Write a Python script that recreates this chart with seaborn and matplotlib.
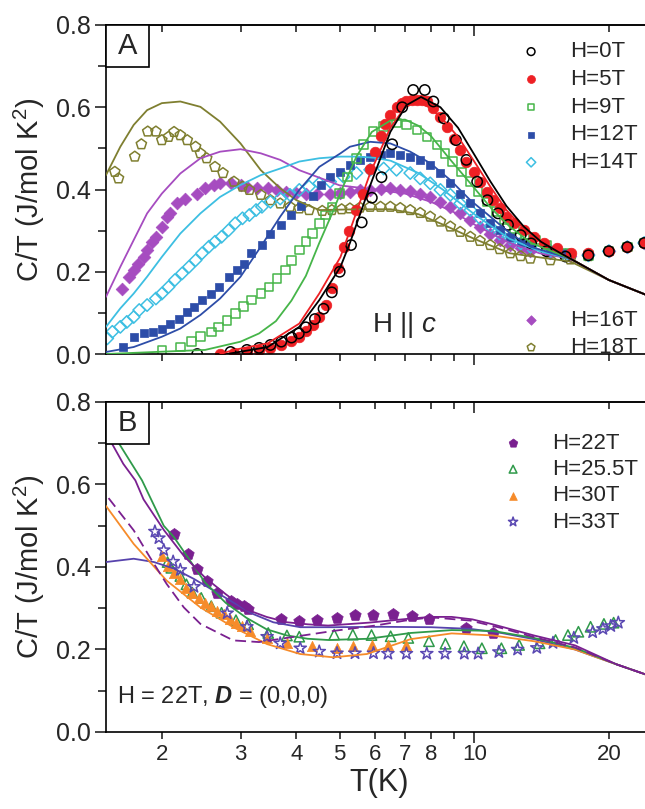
import matplotlib
matplotlib.use("Agg")
import matplotlib.pyplot as plt
from matplotlib.patches import Rectangle
import seaborn as sns

# ---------------- panel A : H || c, data points ----------------
T_0T = [2.4, 2.85, 3.1, 3.3, 3.5, 3.7, 3.9, 4.05, 4.2, 4.4, 4.6, 4.8, 5.0, 5.3, 5.6, 5.9, 6.2, 6.55,
        6.9, 7.3, 7.75, 8.1, 8.55, 9.1, 9.6, 10.15, 10.7, 11.3, 11.9, 12.7, 13.4, 14.5, 16.0, 18.0,
        20.0, 22.0, 24.0]
C_0T = [0.0, 0.005, 0.01, 0.015, 0.022, 0.03, 0.04, 0.05, 0.065, 0.085, 0.11, 0.15, 0.2, 0.265,
        0.32, 0.38, 0.43, 0.51, 0.6, 0.642, 0.642, 0.614, 0.573, 0.52, 0.472, 0.419, 0.374, 0.342,
        0.314, 0.289, 0.269, 0.25, 0.237, 0.24, 0.25, 0.26, 0.27]

T_5T = [2.7, 2.9, 3.1, 3.3, 3.5, 3.7, 3.9, 4.05, 4.2, 4.35, 4.5, 4.65, 4.8, 4.95, 5.1, 5.25, 5.45,
        5.65, 5.85, 6.0, 6.17, 6.33, 6.49, 6.7, 6.9, 7.05, 7.25, 7.45, 7.65, 7.83, 8.1, 8.4, 8.7,
        9.0, 9.3, 9.6, 10.0, 10.3, 10.7, 11.0, 11.4, 11.8, 12.3, 12.9, 13.6, 14.3, 15.3, 16.5,
        18.0, 20.0, 22.0, 24.0]
C_5T = [0.0, 0.003, 0.006, 0.01, 0.015, 0.022, 0.032, 0.042, 0.055, 0.07, 0.09, 0.12, 0.16, 0.21,
        0.26, 0.3, 0.35, 0.39, 0.45, 0.49, 0.53, 0.56, 0.58, 0.6, 0.61, 0.614, 0.617, 0.618, 0.617,
        0.614, 0.597, 0.577, 0.553, 0.524, 0.496, 0.468, 0.443, 0.419, 0.395, 0.374, 0.354, 0.334,
        0.318, 0.301, 0.285, 0.269, 0.257, 0.245, 0.245, 0.25, 0.26, 0.27]

T_9T = [2.0, 2.2, 2.33, 2.44, 2.58, 2.68, 2.8, 2.92, 3.05, 3.17, 3.33, 3.47, 3.62, 3.78, 3.9, 4.06,
        4.2, 4.35, 4.5, 4.65, 4.8, 5.0, 5.2, 5.45, 5.65, 5.93, 6.27, 6.7, 7.05, 7.45, 7.83, 8.25,
        8.6, 8.95, 9.35, 9.8, 10.2, 10.7, 11.2, 11.7, 12.3, 13.0, 13.7, 14.5, 16.0, 18.0, 20.0,
        22.0, 24.0]
C_9T = [0.008, 0.017, 0.03, 0.042, 0.054, 0.066, 0.082, 0.099, 0.115, 0.131, 0.147, 0.163, 0.184,
        0.204, 0.228, 0.253, 0.273, 0.293, 0.318, 0.338, 0.358, 0.39, 0.43, 0.475, 0.51, 0.541,
        0.553, 0.562, 0.557, 0.545, 0.528, 0.508, 0.488, 0.468, 0.443, 0.419, 0.395, 0.37, 0.346,
        0.326, 0.305, 0.289, 0.277, 0.265, 0.245, 0.24, 0.25, 0.26, 0.27]

T_12T = [1.64, 1.73, 1.82, 1.91, 2.0, 2.09, 2.18, 2.28, 2.36, 2.46, 2.58, 2.68, 2.82, 2.95, 3.05,
         3.17, 3.35, 3.5, 3.7, 3.9, 4.1, 4.35, 4.55, 4.76, 5.0, 5.27, 5.55, 5.85, 6.17, 6.49, 6.83,
         7.19, 7.57, 7.97, 8.4, 8.84, 9.3, 9.8, 10.3, 10.86, 11.4, 12.04, 12.7, 13.35, 14.8, 16.0,
         18.0, 20.0, 22.0, 24.0]
C_12T = [0.017, 0.042, 0.05, 0.054, 0.062, 0.074, 0.086, 0.103, 0.115, 0.131, 0.147, 0.163, 0.188,
         0.204, 0.22, 0.245, 0.265, 0.293, 0.314, 0.338, 0.36, 0.385, 0.41, 0.43, 0.443, 0.46,
         0.472, 0.48, 0.484, 0.488, 0.485, 0.48, 0.472, 0.46, 0.439, 0.415, 0.39, 0.366, 0.342,
         0.318, 0.301, 0.285, 0.273, 0.265, 0.253, 0.245, 0.24, 0.25, 0.26, 0.27]

T_14T = [1.51, 1.55, 1.615, 1.67, 1.73, 1.78, 1.854, 1.94, 2.0, 2.07, 2.14, 2.22, 2.3, 2.38, 2.46,
         2.55, 2.63, 2.72, 2.82, 2.92, 3.03, 3.14, 3.25, 3.35, 3.5, 3.68, 3.87, 4.06, 4.27, 4.5,
         4.76, 5.1, 5.45, 5.85, 6.27, 6.7, 7.19, 7.57, 7.97, 8.4, 8.84, 9.3, 9.8, 10.3, 10.86, 11.4,
         12.04, 12.7, 13.35, 14.8, 16.0, 18.0, 20.0, 22.0, 24.0]
C_14T = [0.038, 0.054, 0.066, 0.078, 0.09, 0.107, 0.119, 0.135, 0.147, 0.163, 0.18, 0.196, 0.212,
         0.228, 0.245, 0.261, 0.273, 0.285, 0.301, 0.318, 0.33, 0.338, 0.35, 0.358, 0.37, 0.378,
         0.387, 0.399, 0.407, 0.415, 0.419, 0.431, 0.44, 0.448, 0.451, 0.448, 0.44, 0.427, 0.415,
         0.399, 0.387, 0.366, 0.35, 0.33, 0.31, 0.293, 0.281, 0.269, 0.261, 0.251, 0.24, 0.24, 0.25,
         0.26, 0.27]

T_16T = [1.63, 1.69, 1.73, 1.77, 1.82, 1.854, 1.9, 1.94, 2.0, 2.05, 2.09, 2.16, 2.25, 2.4, 2.5,
         2.62, 2.7, 2.85, 3.0, 3.1, 3.27, 3.45, 3.62, 3.8, 4.0, 4.2, 4.44, 4.76, 5.0, 5.27, 5.55,
         5.85, 6.17, 6.49, 6.83, 7.19, 7.57, 7.97, 8.4, 8.84, 9.3, 9.8, 10.3, 10.86, 11.4, 12.04,
         12.7, 13.35, 14.8, 16.4, 18.0, 20.0, 22.0, 24.0]
C_16T = [0.159, 0.188, 0.204, 0.22, 0.237, 0.253, 0.273, 0.285, 0.31, 0.334, 0.342, 0.366, 0.378,
         0.39, 0.403, 0.411, 0.415, 0.417, 0.411, 0.407, 0.403, 0.403, 0.399, 0.395, 0.392, 0.39,
         0.39, 0.39, 0.392, 0.395, 0.398, 0.4, 0.402, 0.403, 0.4, 0.397, 0.39, 0.382, 0.37, 0.358,
         0.342, 0.326, 0.31, 0.293, 0.277, 0.265, 0.257, 0.251, 0.245, 0.238, 0.242, 0.25, 0.26,
         0.27]

T_18T = [1.57, 1.6, 1.74, 1.8, 1.86, 1.94, 2.0, 2.07, 2.13, 2.2, 2.28, 2.38, 2.44, 2.52, 2.63, 2.74,
         2.9, 3.03, 3.14, 3.33, 3.5, 3.68, 3.87, 4.06, 4.27, 4.57, 4.8, 5.05, 5.27, 5.55, 5.85,
         6.17, 6.49, 6.83, 7.19, 7.57, 7.97, 8.4, 8.84, 9.3, 9.8, 10.3, 10.86, 11.4, 12.04, 12.7,
         13.35, 14.8, 16.4, 18.0, 20.0, 22.0, 24.0]
C_18T = [0.443, 0.427, 0.48, 0.51, 0.541, 0.541, 0.52, 0.528, 0.54, 0.532, 0.52, 0.504, 0.488,
         0.476, 0.455, 0.44, 0.419, 0.407, 0.399, 0.387, 0.374, 0.366, 0.358, 0.354, 0.35, 0.348,
         0.35, 0.352, 0.354, 0.356, 0.358, 0.358, 0.358, 0.355, 0.35, 0.343, 0.334, 0.322, 0.31,
         0.297, 0.285, 0.275, 0.265, 0.255, 0.245, 0.238, 0.232, 0.228, 0.23, 0.238, 0.25, 0.26,
         0.27]

# ---------------- panel A : model curves ----------------
FIT_T_0T = [2.8, 3.45, 4.06, 4.5, 5.02, 5.27, 5.85, 6.49, 7.05, 7.6, 8.4, 9.2, 10.0, 10.86, 11.8,
            12.9, 14.1, 15.6, 16.4, 20.0, 25.0]
FIT_C_0T = [0.0, 0.017, 0.066, 0.131, 0.212, 0.27, 0.41, 0.54, 0.605, 0.625, 0.6, 0.55, 0.485,
            0.42, 0.36, 0.31, 0.273, 0.245, 0.232, 0.18, 0.138]
FIT_T_5T = [2.7, 2.9, 3.45, 4.06, 4.5, 5.02, 5.27, 5.85, 6.49, 7.05, 7.6, 8.4, 9.2, 10.0, 10.86,
            11.8, 12.9, 14.1, 16.4, 20.0, 25.0]
FIT_C_5T = [0.0, 0.01, 0.026, 0.074, 0.147, 0.236, 0.3, 0.44, 0.55, 0.605, 0.615, 0.577, 0.528,
            0.468, 0.407, 0.35, 0.305, 0.273, 0.232, 0.18, 0.138]
FIT_T_9T = [1.5, 2.5, 3.0, 3.3, 3.6, 3.9, 4.2, 4.5, 4.8, 5.1, 5.45, 5.9, 6.5, 7.0, 7.5, 8.0, 8.8,
            9.8, 10.9, 12.0, 13.4, 16.4, 20.0, 25.0]
FIT_C_9T = [0.0, 0.01, 0.03, 0.05, 0.08, 0.13, 0.19, 0.27, 0.34, 0.41, 0.48, 0.54, 0.568, 0.57,
            0.555, 0.53, 0.475, 0.415, 0.355, 0.31, 0.27, 0.232, 0.18, 0.138]
FIT_T_12T = [1.5, 1.73, 2.0, 2.2, 2.44, 2.7, 3.0, 3.33, 3.68, 4.06, 4.5, 5.02, 5.27, 5.85, 6.49,
             7.19, 7.97, 8.84, 9.8, 10.86, 12.04, 13.35, 16.4, 20.0, 25.0]
FIT_C_12T = [0.005, 0.017, 0.042, 0.062, 0.095, 0.135, 0.188, 0.261, 0.334, 0.399, 0.455, 0.488,
             0.504, 0.516, 0.512, 0.492, 0.464, 0.423, 0.374, 0.334, 0.293, 0.261, 0.232, 0.18,
             0.138]
FIT_T_14T = [1.5, 1.615, 1.73, 1.854, 2.0, 2.2, 2.44, 2.7, 3.0, 3.33, 3.68, 4.06, 4.5, 5.02, 5.5,
             6.0, 6.5, 7.5, 8.5, 10.0, 12.0, 14.0, 16.4, 20.0, 25.0]
FIT_C_14T = [0.066, 0.111, 0.147, 0.188, 0.236, 0.293, 0.342, 0.382, 0.411, 0.435, 0.451, 0.468,
             0.476, 0.48, 0.48, 0.477, 0.47, 0.44, 0.4, 0.34, 0.28, 0.25, 0.232, 0.18, 0.138]
FIT_T_16T = [1.5, 1.615, 1.73, 1.854, 2.0, 2.2, 2.44, 2.7, 3.0, 3.33, 3.68, 4.06, 4.6, 5.0, 6.0,
             7.0, 8.0, 9.0, 10.0, 12.0, 14.0, 16.4, 20.0, 25.0]
FIT_C_16T = [0.139, 0.212, 0.277, 0.342, 0.39, 0.439, 0.476, 0.492, 0.498, 0.488, 0.472, 0.447,
             0.425, 0.41, 0.4, 0.39, 0.37, 0.345, 0.315, 0.27, 0.245, 0.232, 0.18, 0.138]
FIT_T_18T = [1.5, 1.615, 1.73, 1.854, 2.0, 2.2, 2.44, 2.7, 3.0, 3.33, 3.68, 4.0, 4.5, 5.5, 6.5, 7.5,
             8.5, 10.0, 12.0, 14.0, 16.4, 20.0, 25.0]
FIT_C_18T = [0.435, 0.504, 0.557, 0.593, 0.61, 0.614, 0.601, 0.565, 0.512, 0.447, 0.403, 0.374,
             0.35, 0.352, 0.352, 0.34, 0.315, 0.28, 0.245, 0.235, 0.225, 0.18, 0.138]

# ---------------- panel B : high fields, data points ----------------
T_22T = [2.13, 2.29, 2.40, 2.52, 2.66, 2.86, 2.95, 3.05, 3.12, 3.69, 4.05, 4.44, 4.94, 5.41, 5.95,
         6.57, 7.25, 7.92, 9.58, 11.0]
C_22T = [0.479, 0.431, 0.396, 0.366, 0.338, 0.317, 0.31, 0.305, 0.297, 0.273, 0.269, 0.271, 0.277,
         0.283, 0.283, 0.287, 0.281, 0.273, 0.253, 0.239]

T_25T = [2.06, 2.10, 2.20, 2.27, 2.34, 2.45, 2.58, 2.72, 2.93, 3.12, 3.46, 3.81, 4.06, 4.86, 5.35,
         5.89, 6.5, 7.12, 7.92, 8.62, 9.48, 10.4, 11.5, 12.6, 14.0, 15.2, 16.2, 17.1, 18.2, 19.5,
         20.5]
C_25T = [0.412, 0.398, 0.378, 0.358, 0.338, 0.325, 0.305, 0.289, 0.271, 0.261, 0.24, 0.234, 0.231,
         0.236, 0.236, 0.235, 0.232, 0.228, 0.22, 0.214, 0.208, 0.203, 0.203, 0.211, 0.215, 0.223,
         0.235, 0.243, 0.255, 0.262, 0.265]

T_30T = [2.0, 2.06, 2.13, 2.20, 2.27, 2.34, 2.42, 2.50, 2.58, 2.66, 2.75, 2.84, 2.93, 3.02, 3.15,
         3.44, 3.81, 4.33, 4.92, 5.35, 5.89, 6.41, 7.05]
C_30T = [0.427, 0.402, 0.386, 0.37, 0.35, 0.338, 0.325, 0.313, 0.305, 0.293, 0.285, 0.273, 0.265,
         0.257, 0.245, 0.228, 0.216, 0.208, 0.204, 0.208, 0.21, 0.21, 0.21]

T_33T = [1.93, 1.97, 2.02, 2.12, 2.2, 2.36, 2.8, 3.1, 3.44, 3.68, 4.08, 4.5, 4.93, 5.41, 5.95, 6.41,
         7.05, 7.83, 8.6, 9.5, 10.2, 11.35, 12.5, 13.8, 15.0, 16.7, 18.4, 19.4, 20.2, 21.0]
C_33T = [0.486, 0.47, 0.441, 0.413, 0.393, 0.352, 0.288, 0.255, 0.231, 0.215, 0.203, 0.195, 0.191,
         0.191, 0.191, 0.19, 0.19, 0.19, 0.19, 0.19, 0.19, 0.194, 0.2, 0.204, 0.216, 0.228, 0.242,
         0.25, 0.257, 0.265]

# ---------------- panel B : model curves ----------------
FIT_T_22T = [1.5, 1.64, 1.745, 1.82, 2.02, 2.24, 2.5, 2.78, 3.09, 3.43, 3.81, 4.24, 4.71, 5.8, 7.2,
             8.0, 8.9, 9.9, 11.0, 13.6, 16.8, 20.8, 25.0]
FIT_C_22T = [0.725, 0.65, 0.61, 0.564, 0.49, 0.427, 0.374, 0.334, 0.297, 0.279, 0.266, 0.261,
             0.258, 0.265, 0.275, 0.279, 0.279, 0.273, 0.261, 0.234, 0.21, 0.164, 0.134]
FIT_T_25T = [1.5, 1.806, 2.02, 2.13, 2.5, 2.78, 3.09, 3.43, 3.81, 4.24, 4.71, 5.8, 7.2, 8.9, 11.0,
             13.6, 16.8, 20.8, 25.0]
FIT_C_25T = [0.75, 0.61, 0.5, 0.472, 0.362, 0.313, 0.277, 0.249, 0.234, 0.226, 0.223, 0.226, 0.24,
             0.247, 0.245, 0.228, 0.204, 0.164, 0.134]
FIT_T_30T = [1.5, 1.73, 2.05, 2.44, 2.89, 3.44, 4.08, 4.84, 5.75, 7.2, 8.9, 11.0, 13.6, 16.8, 20.8,
             25.0]
FIT_C_30T = [0.548, 0.456, 0.367, 0.302, 0.254, 0.213, 0.189, 0.181, 0.189, 0.225, 0.239, 0.234,
             0.22, 0.2, 0.164, 0.134]
FIT_T_D0 = [1.5, 1.73, 1.92, 2.13, 2.36, 2.61, 2.89, 3.2, 3.55, 4.08, 4.84, 6.16, 8.0, 9.8, 11.5,
            13.6, 16.8, 20.8, 25.0]
FIT_C_D0 = [0.412, 0.42, 0.412, 0.396, 0.371, 0.343, 0.314, 0.286, 0.266, 0.254, 0.254, 0.255,
            0.254, 0.25, 0.24, 0.225, 0.2, 0.164, 0.134]
FIT_T_DASH = [1.52, 1.73, 1.88, 2.05, 2.24, 2.44, 2.89, 3.3, 3.8, 4.84, 6.0, 7.0, 8.0, 9.8, 11.5,
              13.6, 16.8, 20.8, 25.0]
FIT_C_DASH = [0.567, 0.489, 0.424, 0.359, 0.302, 0.262, 0.222, 0.218, 0.228, 0.245, 0.258, 0.27,
              0.278, 0.27, 0.252, 0.23, 0.205, 0.164, 0.134]

X_MINOR = [2, 3, 4, 5, 6, 7, 8, 9, 20]
X_MINOR_LABELS = ["2", "3", "4", "5", "6", "7", "8", "", "20"]
Y_MAJOR = [0.0, 0.2, 0.4, 0.6, 0.8]
Y_MINOR = [0.1, 0.3, 0.5, 0.7]

sns.set_style("ticks")
plt.rcParams["font.family"] = ["Liberation Sans", "DejaVu Sans"]
plt.rcParams["mathtext.fontset"] = "custom"
plt.rcParams["mathtext.rm"] = "Liberation Sans"
plt.rcParams["mathtext.it"] = "Liberation Sans:italic"
plt.rcParams["mathtext.bf"] = "Liberation Sans:bold"
plt.rcParams["mathtext.bfit"] = "Liberation Sans:italic:bold"

TICK_W = 1.2


def points(ax, T, C, color, marker, size, label, filled=True):
    if filled:
        sns.scatterplot(x=T, y=C, ax=ax, marker=marker, s=size, color=color, edgecolor=color,
                        linewidth=0.5, label=label, legend=False, zorder=2)
    else:
        sns.scatterplot(x=T, y=C, ax=ax, marker=marker, s=size, facecolor="none", edgecolor=color,
                        linewidth=1.1, label=label, legend=False, zorder=2)


def curve(ax, T, C, color, ls="-"):
    sns.lineplot(x=T, y=C, ax=ax, color=color, lw=1.3, ls=ls, estimator=None, sort=False,
                 legend=False, zorder=3)


def style_axes(ax, letter, show_xlabels):
    ax.set_xscale("log")
    ax.set_xlim(1.5, 25)
    ax.set_ylim(0, 0.8)
    for side in ["left", "bottom", "top", "right"]:
        ax.spines[side].set_linewidth(TICK_W)
        ax.spines[side].set_color("black")

    ax.set_xticks([10], labels=["10"])
    ax.set_xticks(X_MINOR, labels=X_MINOR_LABELS, minor=True)
    ax.tick_params(axis="x", which="major", direction="out", length=8, width=TICK_W,
                   labelsize=16, pad=1, labelbottom=show_xlabels)
    ax.tick_params(axis="x", which="minor", direction="out", length=5, width=TICK_W,
                   labelsize=16, pad=4, labelbottom=show_xlabels)

    top = ax.secondary_xaxis("top")
    top.set_xticks([10], labels=[""])
    top.set_xticks(X_MINOR, labels=[""] * len(X_MINOR), minor=True)
    top.tick_params(which="major", direction="in", length=8, width=TICK_W)
    top.tick_params(which="minor", direction="in", length=5, width=TICK_W)
    top.spines["top"].set_linewidth(TICK_W)

    ax.set_yticks(Y_MAJOR, labels=["0.0", "0.2", "0.4", "0.6", "0.8"])
    ax.set_yticks(Y_MINOR, minor=True)
    ax.tick_params(axis="y", which="major", direction="out", length=8, width=TICK_W,
                   labelsize=18, pad=3)
    ax.tick_params(axis="y", which="minor", direction="out", length=6, width=TICK_W)

    ax.set_ylabel("C/T (J/mol K$^2$)", fontsize=21)
    ax.yaxis.set_label_coords(-0.108, 0.5)
    if show_xlabels:
        ax.set_xlabel("T(K)", fontsize=22)
        ax.xaxis.set_label_coords(0.5, -0.11)
    else:
        ax.set_xlabel("")

    ax.add_patch(Rectangle((0, 0.872), 0.079, 0.128, transform=ax.transAxes, facecolor="white",
                           edgecolor="black", lw=TICK_W, zorder=5, clip_on=False))
    ax.text(0.0395, 0.936, letter, transform=ax.transAxes, ha="center", va="center",
            fontsize=21, zorder=6)


fig = plt.figure(figsize=(6.45, 8.09), dpi=100)
ax_a = fig.add_axes([0.1643, 0.5624, 0.8468, 0.4067])
ax_b = fig.add_axes([0.1643, 0.0952, 0.8468, 0.4079])

# ---- panel A ----
ax_a.set_xscale("log")
points(ax_a, T_16T, C_16T, "#a64cc0", "D", 42, "H=16T")
points(ax_a, T_18T, C_18T, "#7f7f30", "p", 60, "H=18T", filled=False)
points(ax_a, T_14T, C_14T, "#3dbfe2", "D", 40, "H=14T", filled=False)
points(ax_a, T_12T, C_12T, "#2d4da8", "s", 38, "H=12T")
points(ax_a, T_9T, C_9T, "#46b549", "s", 38, "H=9T", filled=False)
points(ax_a, T_5T, C_5T, "#ee2024", "o", 58, "H=5T")
points(ax_a, T_0T, C_0T, "black", "o", 55, "H=0T", filled=False)

curve(ax_a, FIT_T_18T, FIT_C_18T, "#7f7f30")
curve(ax_a, FIT_T_16T, FIT_C_16T, "#a64cc0")
curve(ax_a, FIT_T_14T, FIT_C_14T, "#3dbfe2")
curve(ax_a, FIT_T_12T, FIT_C_12T, "#2d4da8")
curve(ax_a, FIT_T_9T, FIT_C_9T, "#46b549")
curve(ax_a, FIT_T_5T, FIT_C_5T, "#ee2024")
curve(ax_a, FIT_T_0T, FIT_C_0T, "black")

style_axes(ax_a, "A", show_xlabels=False)

handles, labels = ax_a.get_legend_handles_labels()
lookup = dict(zip(labels, handles))
top_names = ["H=0T", "H=5T", "H=9T", "H=12T", "H=14T"]
low_names = ["H=16T", "H=18T"]
leg_kw = dict(frameon=False, fontsize=16, handlelength=1.0, handletextpad=1.25,
              borderpad=0, borderaxespad=0, markerscale=0.75, loc="upper left")
leg1 = ax_a.legend([lookup[n] for n in top_names], top_names, bbox_to_anchor=(0.758, 0.95),
                   labelspacing=0.3, **leg_kw)
ax_a.add_artist(leg1)
ax_a.legend([lookup[n] for n in low_names], low_names, bbox_to_anchor=(0.758, 0.135),
            labelspacing=0.3, **leg_kw)

ax_a.text(0.487, 0.067, "H || $c$", transform=ax_a.transAxes, fontsize=20, ha="left",
          va="baseline")

# ---- panel B ----
ax_b.set_xscale("log")
points(ax_b, T_22T, C_22T, "#7a2090", "p", 75, "H=22T")
points(ax_b, T_25T, C_25T, "#2f9a4a", "^", 55, "H=25.5T", filled=False)
points(ax_b, T_30T, C_30T, "#f68b2a", "^", 55, "H=30T")
points(ax_b, T_33T, C_33T, "#5a48b2", "*", 85, "H=33T", filled=False)

curve(ax_b, FIT_T_D0, FIT_C_D0, "#5743ad")
curve(ax_b, FIT_T_30T, FIT_C_30T, "#f68b2a")
curve(ax_b, FIT_T_25T, FIT_C_25T, "#2f9a4a")
curve(ax_b, FIT_T_22T, FIT_C_22T, "#7a2090")
curve(ax_b, FIT_T_DASH, FIT_C_DASH, "#7a2090", ls=(0, (6, 3)))

style_axes(ax_b, "B", show_xlabels=True)

names_b = ["H=22T", "H=25.5T", "H=30T", "H=33T"]
handles, labels = ax_b.get_legend_handles_labels()
lookup = dict(zip(labels, handles))
ax_b.legend([lookup[n] for n in names_b], names_b, bbox_to_anchor=(0.725, 0.907),
            labelspacing=0.24, **leg_kw)

ax_b.text(0.02, 0.088, "H = 22T, $\\mathbfit{D}$ = (0,0,0)", transform=ax_b.transAxes,
          fontsize=17, ha="left", va="baseline")

fig.savefig("out.png", dpi=100)
